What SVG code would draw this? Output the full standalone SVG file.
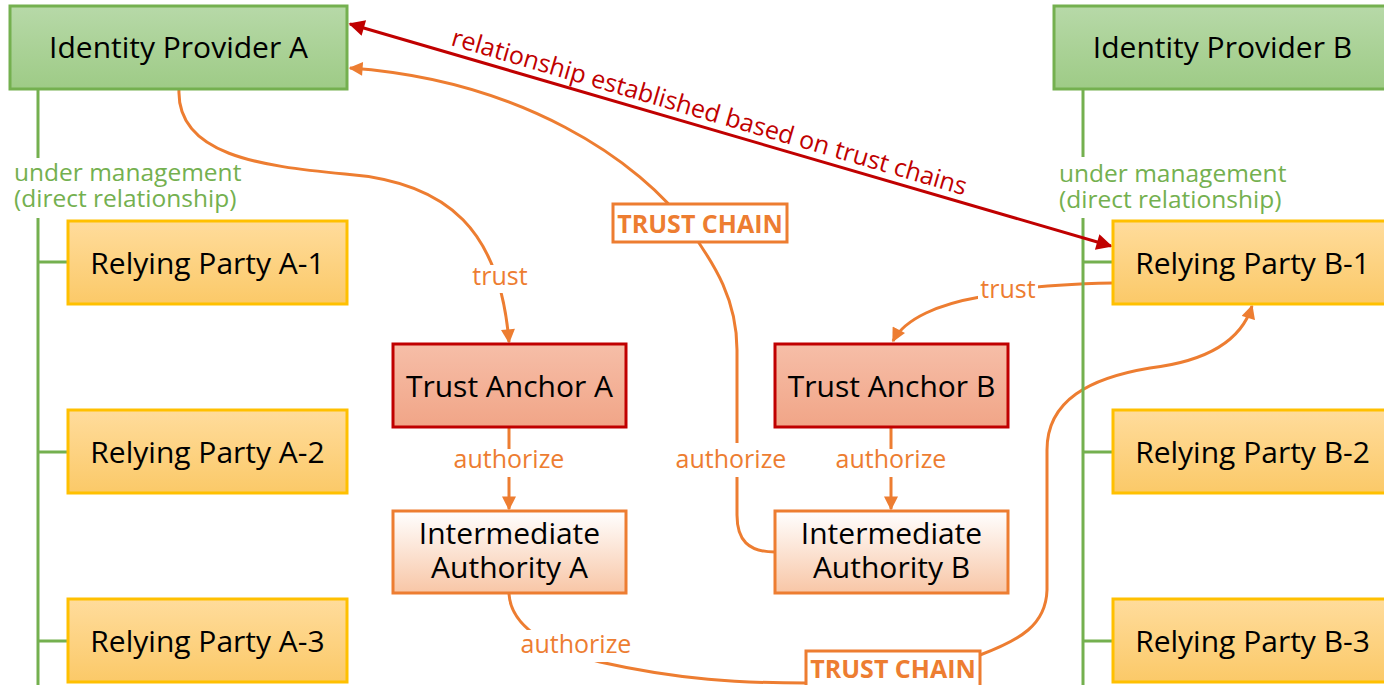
<svg xmlns="http://www.w3.org/2000/svg" width="1384" height="685" viewBox="0 0 1384 685">
  <style>
    .node-text { font-family: "Open Sans", "Noto Sans", sans-serif; font-size: 30px; fill: #000; text-anchor: middle; }
    .idp { fill: url(#g-idp); stroke: #74b04f; stroke-width: 3; }
    .rp { fill: url(#g-rp); stroke: #ffc000; stroke-width: 3; }
    .ta { fill: url(#g-ta); stroke: #c00000; stroke-width: 3; }
    .ia { fill: url(#g-ia); stroke: #ed7d31; stroke-width: 3; }
    .mgmt { fill: none; stroke: #74b04f; stroke-width: 3; }
    .flow { fill: none; stroke: #ed7d31; stroke-width: 3; }
    .flow-arrow { marker-end: url(#ah-orange); }
    .rel { fill: none; stroke: #c00000; stroke-width: 3; marker-start: url(#ah-red); marker-end: url(#ah-red); }
    .lbl { font-family: "Open Sans", "Noto Sans", sans-serif; font-size: 25px; text-anchor: middle; }
    .lbl-orange { fill: #ed7d31; }
    .lbl-green { fill: #74b04f; text-anchor: start; font-size: 24.5px; }
    .lbl-red { fill: #c00000; text-anchor: start; }
    .lbl-bg { fill: #fff; }
    .chain-box { fill: #fff; stroke: #ed7d31; stroke-width: 3; }
    .chain-text { font-family: "Open Sans", "Noto Sans", sans-serif; font-size: 25px; font-weight: bold; fill: #ed7d31; text-anchor: middle; }
  </style>
  <defs>
    <linearGradient id="g-idp" x1="0" y1="0" x2="0" y2="1">
      <stop offset="0" stop-color="#b7d9a8"/>
      <stop offset="1" stop-color="#9ecb86"/>
    </linearGradient>
    <linearGradient id="g-rp" x1="0" y1="0" x2="0" y2="1">
      <stop offset="0" stop-color="#ffdc9c"/>
      <stop offset="1" stop-color="#fbc968"/>
    </linearGradient>
    <linearGradient id="g-ta" x1="0" y1="0" x2="0" y2="1">
      <stop offset="0" stop-color="#f6bea8"/>
      <stop offset="1" stop-color="#f1a587"/>
    </linearGradient>
    <linearGradient id="g-ia" x1="0" y1="0" x2="0" y2="1">
      <stop offset="0" stop-color="#ffffff"/>
      <stop offset="1" stop-color="#f8c6a6"/>
    </linearGradient>
    <marker id="ah-orange" viewBox="0 0 10 10" refX="9" refY="5" markerWidth="15" markerHeight="14" markerUnits="userSpaceOnUse" orient="auto-start-reverse">
      <path d="M0,0 L10,5 L0,10 z" fill="#ed7d31"/>
    </marker>
    <marker id="ah-red" viewBox="0 0 10 10" refX="9" refY="5" markerWidth="18" markerHeight="16" markerUnits="userSpaceOnUse" orient="auto-start-reverse">
      <path d="M0,0 L10,5 L0,10 z" fill="#c00000"/>
    </marker>
  </defs>

  <rect width="1384" height="685" fill="#fff"/>

  <g id="connectors">
    <!-- trust: IdP A -> Trust Anchor A -->
    <path class="flow flow-arrow" d="M179,89 C176,155 260,166 345,174 C450,182 500,232 509,342"/>
    <!-- trust: RP B-1 -> Trust Anchor B -->
    <path class="flow flow-arrow" d="M1113,283 C1060,284 1010,288 980,297 C940,304 905,318 893,341"/>
    <!-- authorize: Trust Anchor -> Intermediate Authority -->
    <path class="flow flow-arrow" d="M509,427 L509,509"/>
    <path class="flow flow-arrow" d="M891,427 L891,509"/>
    <!-- trust chain: Intermediate Authority B -> IdP A -->
    <path class="flow flow-arrow" d="M775,552 C748,552 737,540 737,515 L737,350 C737,300 715,265 690,230 C640,160 520,80 350,68"/>
    <!-- trust chain: Intermediate Authority A -> RP B-1 -->
    <path class="flow flow-arrow" d="M509,594 C511,625 545,648 600,662 C680,680 740,683 806,683 C900,683 950,668 980,655 C1020,640 1046,625 1047,590 L1047,450 C1047,400 1090,378 1150,368 C1200,362 1240,345 1252,306"/>

    <!-- management lines -->
    <path class="mgmt" d="M38,89 L38,158 M38,218 L38,685 M38,262 L68,262 M38,452 L68,452 M38,641 L68,641"/>
    <path class="mgmt" d="M1083,89 L1083,157 M1083,218 L1083,685 M1083,262 L1113,262 M1083,452 L1113,452 M1083,641 L1113,641"/>

    <!-- federation relationship between IdP A and RP B-1 -->
    <path class="rel" d="M350,24 L1111,246"/>

    <!-- connector labels -->
    <text class="lbl lbl-green" x="14" y="181">under management<tspan x="14" dy="26">(direct relationship)</tspan></text>
    <text class="lbl lbl-green" x="1059" y="182">under management<tspan x="1059" dy="26">(direct relationship)</tspan></text>

    <text class="lbl lbl-red" transform="translate(450,45) rotate(16.3)">relationship established based on trust chains</text>

    <rect class="lbl-bg" x="470" y="265" width="60" height="28"/>
    <text class="lbl lbl-orange" x="500" y="285">trust</text>
    <rect class="lbl-bg" x="978" y="276" width="60" height="28"/>
    <text class="lbl lbl-orange" x="1008" y="298">trust</text>

    <rect class="lbl-bg" x="451" y="449" width="116" height="28"/>
    <text class="lbl lbl-orange" x="509" y="468">authorize</text>
    <rect class="lbl-bg" x="833" y="449" width="116" height="28"/>
    <text class="lbl lbl-orange" x="891" y="468">authorize</text>
    <rect class="lbl-bg" x="673" y="443" width="116" height="34"/>
    <text class="lbl lbl-orange" x="731" y="468">authorize</text>
    <rect class="lbl-bg" x="518" y="630" width="116" height="32"/>
    <text class="lbl lbl-orange" x="576" y="653">authorize</text>

    <rect class="chain-box" x="613" y="204" width="174" height="38"/>
    <text class="chain-text" x="700" y="233">TRUST CHAIN</text>
    <rect class="chain-box" x="806" y="651" width="174" height="40"/>
    <text class="chain-text" x="893" y="678">TRUST CHAIN</text>
  </g>

  <g id="idp-a">
    <rect class="idp" x="10" y="6" width="337" height="83"/>
    <text class="node-text" x="178.5" y="58">Identity Provider A</text>
  </g>
  <g id="idp-b">
    <rect class="idp" x="1054" y="6" width="337" height="83"/>
    <text class="node-text" x="1222.5" y="58">Identity Provider B</text>
  </g>

  <g id="rp-a-1">
    <rect class="rp" x="68" y="221" width="279" height="83"/>
    <text class="node-text" x="207.5" y="274">Relying Party A-1</text>
  </g>
  <g id="rp-a-2">
    <rect class="rp" x="68" y="410" width="279" height="83"/>
    <text class="node-text" x="207.5" y="463">Relying Party A-2</text>
  </g>
  <g id="rp-a-3">
    <rect class="rp" x="68" y="599" width="279" height="83"/>
    <text class="node-text" x="207.5" y="652">Relying Party A-3</text>
  </g>

  <g id="rp-b-1">
    <rect class="rp" x="1113" y="221" width="279" height="83"/>
    <text class="node-text" x="1252.5" y="274">Relying Party B-1</text>
  </g>
  <g id="rp-b-2">
    <rect class="rp" x="1113" y="410" width="279" height="83"/>
    <text class="node-text" x="1252.5" y="463">Relying Party B-2</text>
  </g>
  <g id="rp-b-3">
    <rect class="rp" x="1113" y="599" width="279" height="83"/>
    <text class="node-text" x="1252.5" y="652">Relying Party B-3</text>
  </g>

  <g id="trust-anchor-a">
    <rect class="ta" x="393" y="344" width="233" height="83"/>
    <text class="node-text" x="509.5" y="397">Trust Anchor A</text>
  </g>
  <g id="trust-anchor-b">
    <rect class="ta" x="775" y="344" width="233" height="83"/>
    <text class="node-text" x="891.5" y="397">Trust Anchor B</text>
  </g>

  <g id="intermediate-a">
    <rect class="ia" x="393" y="511" width="233" height="82"/>
    <text class="node-text" x="509.5" y="544">Intermediate<tspan x="509.5" dy="34">Authority A</tspan></text>
  </g>
  <g id="intermediate-b">
    <rect class="ia" x="775" y="511" width="233" height="82"/>
    <text class="node-text" x="891.5" y="544">Intermediate<tspan x="891.5" dy="34">Authority B</tspan></text>
  </g>
</svg>
